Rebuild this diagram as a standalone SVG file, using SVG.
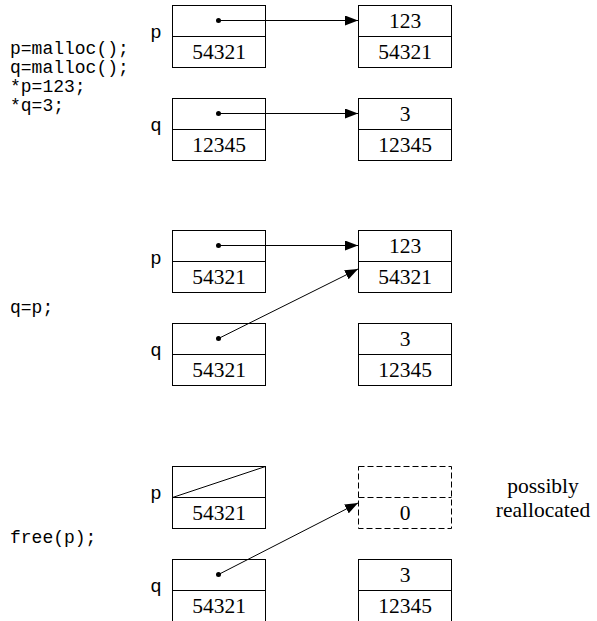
<svg xmlns="http://www.w3.org/2000/svg" width="597" height="621" viewBox="0 0 597 621">
<style>
.box{fill:none;stroke:#000;stroke-width:1}
.dash{fill:none;stroke:#000;stroke-width:1;stroke-dasharray:6,3}
.num{font-family:"Liberation Serif","Times New Roman",serif;font-size:21.5px;text-anchor:middle;fill:#000}
.code{font-family:"Liberation Mono","Courier New",monospace;font-size:18px;fill:#000}
.lbl{font-family:"Liberation Mono","Courier New",monospace;font-size:19px;fill:#000;text-anchor:middle}
.ptr{stroke:#000;stroke-width:1;fill:none;marker-end:url(#ah)}
.dot{fill:#000}
</style>
<defs>
<marker id="ah" viewBox="0 0 13 10" refX="13" refY="5" markerWidth="13" markerHeight="10" markerUnits="userSpaceOnUse" orient="auto">
<path d="M0,0 L13,5 L0,10 z" fill="#000"/>
</marker>
</defs>
<g id="code">
<text class="code" x="10" y="54">p=malloc();</text>
<text class="code" x="10" y="73">q=malloc();</text>
<text class="code" x="10" y="92">*p=123;</text>
<text class="code" x="10" y="111">*q=3;</text>
<text class="code" x="10" y="313">q=p;</text>
<text class="code" x="10" y="543">free(p);</text>
</g>
<g id="p1">
<text class="lbl" x="156" y="38">p</text>
<rect class="box" x="172.5" y="5.5" width="93" height="62"/>
<line class="box" x1="172.5" y1="36.5" x2="265.5" y2="36.5"/>
<circle class="dot" cx="218.5" cy="20.5" r="2.5"/>
<text class="num" x="219" y="59">54321</text>
</g>
<g id="q1">
<text class="lbl" x="156" y="131">q</text>
<rect class="box" x="172.5" y="98.5" width="93" height="62"/>
<line class="box" x1="172.5" y1="129.5" x2="265.5" y2="129.5"/>
<circle class="dot" cx="218.5" cy="113.5" r="2.5"/>
<text class="num" x="219" y="152">12345</text>
</g>
<g id="m1a">
<rect class="box" x="358.5" y="5.5" width="93" height="62"/>
<line class="box" x1="358.5" y1="36.5" x2="451.5" y2="36.5"/>
<text class="num" x="405" y="28">123</text>
<text class="num" x="405" y="59">54321</text>
</g>
<g id="m1b">
<rect class="box" x="358.5" y="98.5" width="93" height="62"/>
<line class="box" x1="358.5" y1="129.5" x2="451.5" y2="129.5"/>
<text class="num" x="405" y="121">3</text>
<text class="num" x="405" y="152">12345</text>
</g>
<g id="p2">
<text class="lbl" x="156" y="264">p</text>
<rect class="box" x="172.5" y="230.5" width="93" height="62"/>
<line class="box" x1="172.5" y1="261.5" x2="265.5" y2="261.5"/>
<circle class="dot" cx="218.5" cy="245.5" r="2.5"/>
<text class="num" x="219" y="284">54321</text>
</g>
<g id="q2">
<text class="lbl" x="156" y="356">q</text>
<rect class="box" x="172.5" y="323.5" width="93" height="62"/>
<line class="box" x1="172.5" y1="354.5" x2="265.5" y2="354.5"/>
<circle class="dot" cx="218.5" cy="338.5" r="2.5"/>
<text class="num" x="219" y="377">54321</text>
</g>
<g id="m2a">
<rect class="box" x="358.5" y="230.5" width="93" height="62"/>
<line class="box" x1="358.5" y1="261.5" x2="451.5" y2="261.5"/>
<text class="num" x="405" y="253">123</text>
<text class="num" x="405" y="284">54321</text>
</g>
<g id="m2b">
<rect class="box" x="358.5" y="323.5" width="93" height="62"/>
<line class="box" x1="358.5" y1="354.5" x2="451.5" y2="354.5"/>
<text class="num" x="405" y="346">3</text>
<text class="num" x="405" y="377">12345</text>
</g>
<g id="p3">
<text class="lbl" x="156" y="499">p</text>
<rect class="box" x="172.5" y="466.5" width="93" height="62"/>
<line class="box" x1="172.5" y1="497.5" x2="265.5" y2="497.5"/>
<line class="box" x1="172.5" y1="497.5" x2="265.5" y2="466.5"/>
<text class="num" x="219" y="520">54321</text>
</g>
<g id="q3">
<text class="lbl" x="156" y="592">q</text>
<rect class="box" x="172.5" y="559.5" width="93" height="62"/>
<line class="box" x1="172.5" y1="590.5" x2="265.5" y2="590.5"/>
<circle class="dot" cx="218.5" cy="574.5" r="2.5"/>
<text class="num" x="219" y="613">54321</text>
</g>
<g id="m3a">
<rect class="dash" x="358.5" y="466.5" width="93" height="62"/>
<line class="dash" x1="358.5" y1="497.5" x2="451.5" y2="497.5"/>
<text class="num" x="405" y="520">0</text>
<text class="num" x="543" y="493">possibly</text>
<text class="num" x="543" y="517">reallocated</text>
</g>
<g id="m3b">
<rect class="box" x="358.5" y="559.5" width="93" height="62"/>
<line class="box" x1="358.5" y1="590.5" x2="451.5" y2="590.5"/>
<text class="num" x="405" y="582">3</text>
<text class="num" x="405" y="613">12345</text>
</g>
<g id="connectors">
<line class="ptr" x1="218.5" y1="20.5" x2="358" y2="20.5"/>
<line class="ptr" x1="218.5" y1="113.5" x2="358" y2="113.5"/>
<line class="ptr" x1="218.5" y1="245.5" x2="358" y2="245.5"/>
<line class="ptr" x1="218.5" y1="338.5" x2="358" y2="269"/>
<line class="ptr" x1="218.5" y1="574.5" x2="358" y2="503"/>
</g>
</svg>
